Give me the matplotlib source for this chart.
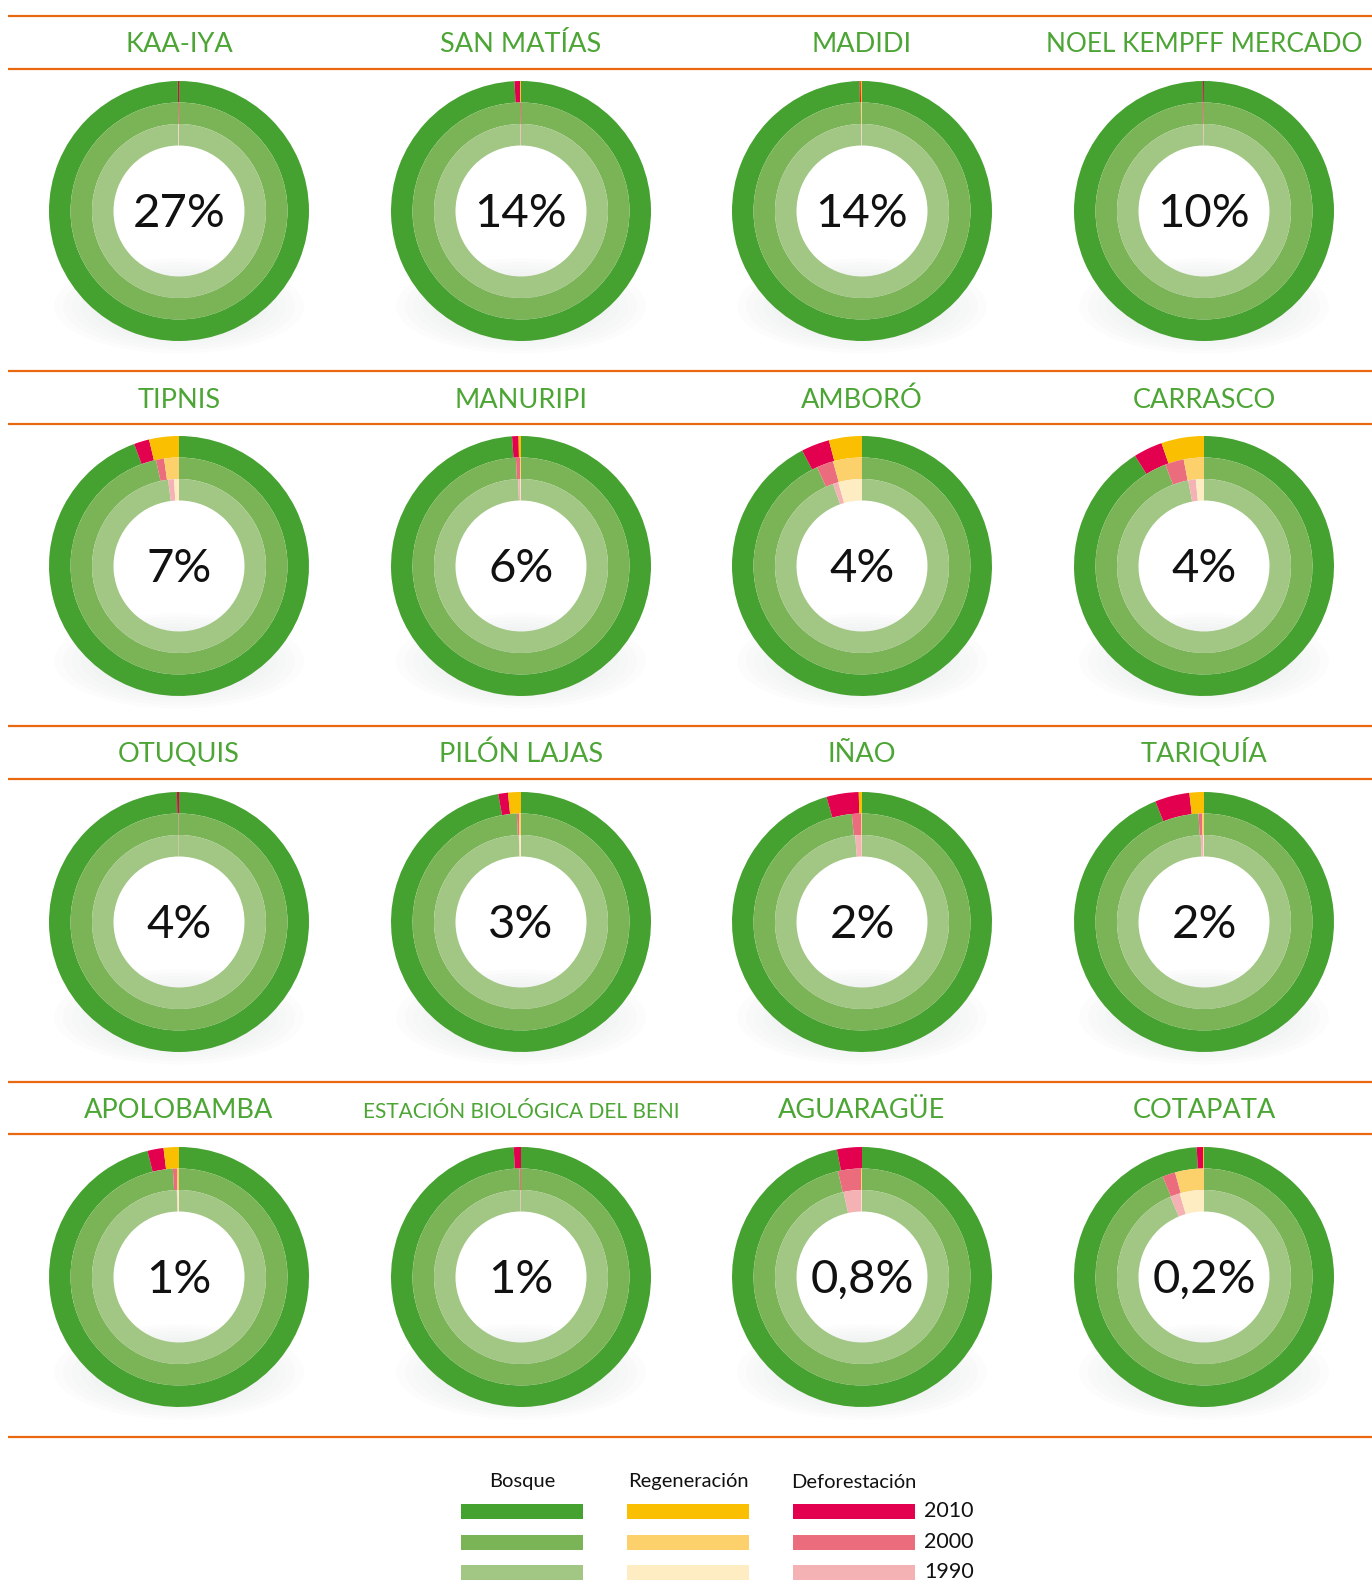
import numpy as np
import matplotlib
matplotlib.use("Agg")
import matplotlib.pyplot as plt
from matplotlib.patches import Ellipse

W, H = 1372, 1585

names = ["KAA-IYA", "SAN MATÍAS", "MADIDI", "NOEL KEMPFF MERCADO",
         "TIPNIS", "MANURIPI", "AMBORÓ", "CARRASCO",
         "OTUQUIS", "PILÓN LAJAS", "IÑAO", "TARIQUÍA",
         "APOLOBAMBA", "ESTACIÓN BIOLÓGICA DEL BENI", "AGUARAGÜE", "COTAPATA"]
share = ["27%", "14%", "14%", "10%", "7%", "6%", "4%", "4%",
         "4%", "3%", "2%", "2%", "1%", "1%", "0,8%", "0,2%"]

# percent of the area in each ring (outer 2010, middle 2000, inner 1990)
regen_2010 = [0, 0.1, 0.15, 0, 3.7, 0.3, 4.1, 5.3, 0, 1.6, 0.4, 1.8, 1.9, 0, 0, 0.1]
defor_2010 = [0.15, 0.7, 0.15, 0.12, 1.9, 0.8, 3.5, 3.6, 0.25, 1.2, 4.0, 4.3, 2.0, 0.9, 3.1, 0.8]
regen_2000 = [0, 0, 0.12, 0, 2.2, 0.15, 4.3, 3.0, 0, 0.3, 0.1, 0.3, 0.3, 0, 0.15, 4.3]
defor_2000 = [0.15, 0.15, 0.05, 0.15, 1.2, 0.6, 2.5, 2.8, 0.05, 0.3, 1.4, 0.5, 0.6, 0.2, 3.4, 1.9]
regen_1990 = [0.05, 0, 0.05, 0, 0.9, 0.1, 4.4, 1.5, 0, 0.3, 0.05, 0.1, 0.3, 0, 0.1, 4.5]
defor_1990 = [0.1, 0.15, 0.1, 0.1, 1.1, 0.4, 1.0, 1.4, 0.05, 0.1, 1.2, 0.5, 0.1, 0.1, 3.3, 1.8]

years = ["2010", "2000", "1990"]
green = ["#45a230", "#7bb457", "#a2c784"]
yellow = ["#f9bf00", "#fcd16b", "#feecc3"]
red = ["#e3004f", "#eb6c7d", "#f4b2b5"]
orange = "#e8690f"
title_green = "#4ca535"

rings = [(regen_2010, defor_2010), (regen_2000, defor_2000), (regen_1990, defor_1990)]

col_x = [179, 521, 862, 1204]
row_y = [211, 566, 922, 1277]
title_base = [52, 408, 762, 1118]
line_y = [16, 69, 371, 424, 726, 779, 1082, 1134, 1437]
radii = [130, 108.5, 87]
ring_w = 21.5

fig = plt.figure(figsize=(W / 100, H / 100), dpi=100)
ax = fig.add_axes([0, 0, 1, 1])

for y in line_y:
    ax.plot([8, W], [H - y, H - y], color=orange, lw=1.6, solid_capstyle="butt", zorder=1)

for i, name in enumerate(names):
    r, c = divmod(i, 4)
    cx, cy = col_x[c], H - row_y[r]

    # soft shadow under the donut
    for k in range(14):
        f = 1 - k / 14
        ax.add_patch(Ellipse((cx, cy - 95), 250 * f, 95 * f, color="#b8bcbc",
                             alpha=0.03, lw=0, zorder=2))

    for j, (rg, df) in enumerate(rings):
        vals = [100 - rg[i] - df[i], df[i], rg[i]]
        ax.pie(vals, colors=[green[j], red[j], yellow[j]], radius=radii[j],
               center=(cx, cy), startangle=90, counterclock=False, frame=True,
               wedgeprops=dict(width=ring_w, edgecolor="none", linewidth=0, zorder=3))

    ax.text(cx, cy - 16, share[i], ha="center", va="baseline", fontsize=34,
            family="Lato", color="#111111", zorder=5)

    t = ax.text(cx, H - title_base[r], name, ha="center", va="baseline", fontsize=19.5,
                family="Lato", color=title_green, zorder=5)
    fig.canvas.draw()
    wpx = t.get_window_extent().width
    if wpx > 318:
        t.set_fontsize(19.5 * 318 / wpx)

# legend
heads = ["Bosque", "Regeneración", "Deforestación"]
leg_x = [461, 627, 793]
bar_w, bar_h = 122, 15
bar_y = [1511, 1542, 1572]
for c, (head, cols) in enumerate(zip(heads, [green, yellow, red])):
    ax.text(leg_x[c] + bar_w / 2, H - 1482, head, ha="center", va="center",
            fontsize=14.5, family="Lato", color="#111111")
    for j in range(3):
        ax.barh(H - bar_y[j], bar_w, height=bar_h, left=leg_x[c], color=cols[j], lw=0)
for j, yr in enumerate(years):
    ax.text(leg_x[2] + bar_w + 9, H - bar_y[j], yr, ha="left", va="center",
            fontsize=15.5, family="Lato", color="#111111")

ax.set_xlim(0, W)
ax.set_ylim(0, H)
ax.set_aspect("auto")
ax.axis("off")

fig.savefig("out.png", dpi=100, facecolor="white")
